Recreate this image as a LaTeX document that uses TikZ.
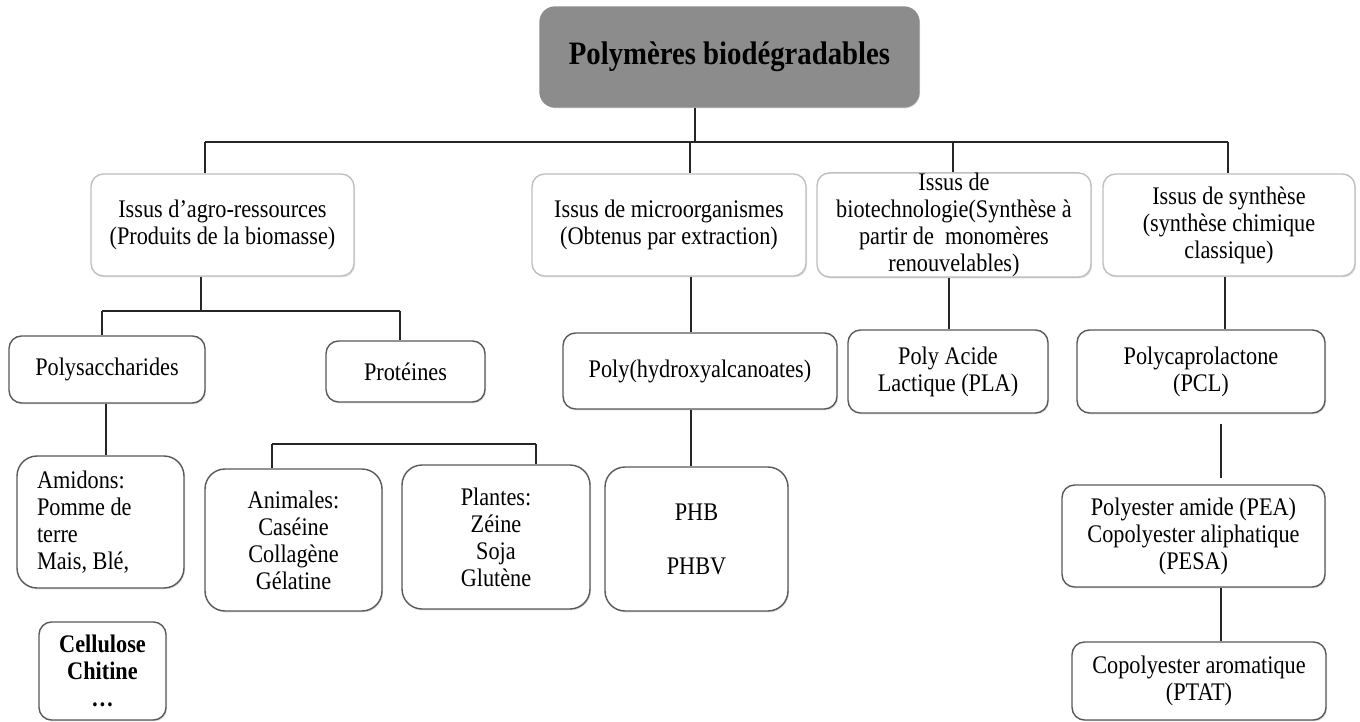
\documentclass[tikz,border=0pt]{standalone}
\usepackage{fontspec}
\setmainfont[FakeStretch=0.88]{Liberation Serif}
\usetikzlibrary{shadows}
\definecolor{rootgray}{HTML}{8C8C8C}

\begin{document}
\begin{tikzpicture}[x=0.02cm,y=-0.02cm,
	box/.style={draw=black!65,line width=0.8pt,rounded corners=0.25cm,align=center,fill=white,inner sep=2pt,
		font=\fontsize{14.4}{15.4}\selectfont,drop shadow={shadow xshift=0.6pt,shadow yshift=-0.8pt,opacity=0.25}},
	topbox/.style={box,draw=black!25},
	bigbox/.style={box,rounded corners=0.4cm},
	link/.style={draw=black!85,line width=1.1pt}]
\useasboundingbox (0,0) rectangle (1360,722);

\node[box,fill=rootgray,draw=rootgray,rounded corners=0.3cm,minimum width=7.58cm,minimum height=2cm,font=\fontsize{18.6}{20}\selectfont\bfseries] (root) at (729.5,57) {Polymères biodégradables};

\node[topbox,minimum width=5.26cm,minimum height=2.04cm] (agro) at (222.5,225) {Issus d’agro-ressources\\(Produits de la biomasse)};
\node[topbox,minimum width=5.48cm,minimum height=2.04cm] (micro) at (669,225) {Issus de microorganismes\\(Obtenus par extraction)};
\node[topbox,minimum width=5.48cm,minimum height=2.04cm,inner ysep=0pt] (biotech) at (954,225) {Issus de\\biotechnologie(Synthèse à\\partir de~ monomères\\renouvelables)};
\node[topbox,minimum width=5.04cm,minimum height=2.04cm] (synth) at (1229,225) {Issus de synthèse\\(synthèse chimique\\classique)};

\node[box,minimum width=3.92cm,minimum height=1.34cm] (polysac) at (107,369.5) {Polysaccharides};
\node[box,minimum width=3.18cm,minimum height=1.22cm] (prot) at (405.5,371.5) {Protéines};
\node[bigbox,minimum width=3.34cm,minimum height=2.64cm,text width=2.54cm,align=flush left] (amidon) at (100.5,522) {Amidons:\\Pomme de\\terre\\Mais, Blé,};
\node[bigbox,minimum width=3.54cm,minimum height=2.84cm] (animal) at (293.5,540) {Animales:\\Caséine\\Collagène\\Gélatine};
\node[bigbox,minimum width=3.76cm,minimum height=2.88cm] (plante) at (496,537) {Plantes:\\Zéine\\Soja\\Glutène};
\node[box,minimum width=2.54cm,minimum height=1.96cm,font=\fontsize{14.4}{15.4}\selectfont\bfseries] (cellul) at (102.5,671) {Cellulose\\Chitine\\…};

\node[box,minimum width=5.48cm,minimum height=1.52cm] (pha) at (700,371) {Poly(hydroxyalcanoates)};
\node[bigbox,minimum width=3.66cm,minimum height=2.88cm] (phb) at (696.5,539) {PHB\\~\\PHBV};
\node[box,minimum width=4cm,minimum height=1.66cm] (pla) at (948,371.5) {Poly Acide\\Lactique (PLA)};
\node[box,minimum width=4.96cm,minimum height=1.66cm] (pcl) at (1201,371.5) {Polycaprolactone\\(PCL)};
\node[box,minimum width=5.26cm,minimum height=2.04cm] (pea) at (1193.5,536) {Polyester amide (PEA)\\Copolyester aliphatique\\(PESA)};
\node[box,minimum width=5.08cm,minimum height=1.56cm] (ptat) at (1199,681) {Copolyester aromatique\\(PTAT)};

\coordinate (hub) at (695,142);
\coordinate (barA) at (205,142);
\coordinate (barB) at (690,142);
\coordinate (barC) at (953,142);
\coordinate (barD) at (1228,142);
\draw[link] (root.south -| hub) -- (hub);
\draw[link] (barA) -- (barD);
\draw[link] (barA) -- (barA |- agro.north);
\draw[link] (barB) -- (barB |- micro.north);
\draw[link] (barC) -- (barC |- biotech.north);
\draw[link] (barD) -- (barD |- synth.north);

\coordinate (forkA) at (201,311);
\coordinate (forkL) at (102,311);
\coordinate (forkR) at (400,311);
\draw[link] (agro.south -| forkA) -- (forkA);
\draw[link] (forkL) -- (forkR);
\draw[link] (forkL) -- (forkL |- polysac.north);
\draw[link] (forkR) -- (forkR |- prot.north);
\coordinate (dropP) at (106,0);
\draw[link] (polysac.south -| dropP) -- (amidon.north -| dropP);

\coordinate (protL) at (272,444);
\coordinate (protR) at (536,444);
\draw[link] (protL) -- (protR);
\draw[link] (protL) -- (protL |- animal.north);
\draw[link] (protR) -- (protR |- plante.north);

\coordinate (dropM) at (691,0);
\draw[link] (micro.south -| dropM) -- (pha.north -| dropM);
\draw[link] (pha.south -| dropM) -- (phb.north -| dropM);
\coordinate (dropB) at (949,0);
\draw[link] (biotech.south -| dropB) -- (pla.north -| dropB);
\coordinate (dropS) at (1225,0);
\draw[link] (synth.south -| dropS) -- (pcl.north -| dropS);
\coordinate (dropE) at (1221,0);
\draw[link,shorten <=0.2cm,shorten >=0.12cm] (pcl.south -| dropE) -- (pea.north -| dropE);
\draw[link] (pea.south -| dropE) -- (ptat.north -| dropE);

\end{tikzpicture}
\end{document}
